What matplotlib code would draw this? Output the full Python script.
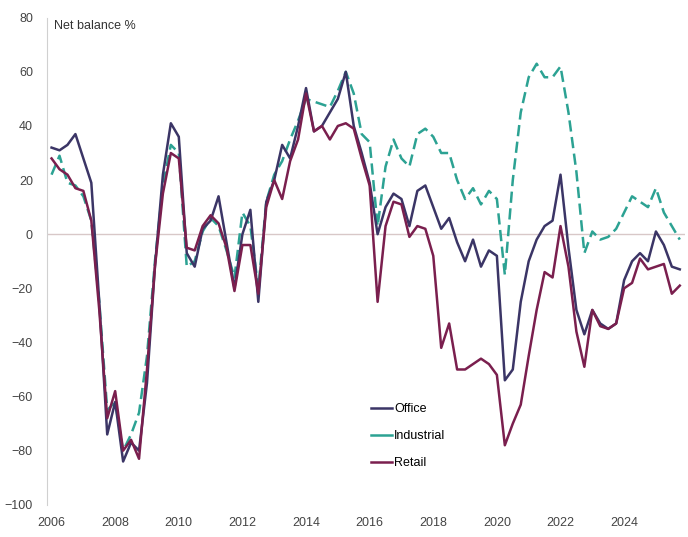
import numpy as np
import matplotlib
matplotlib.use("Agg")
from matplotlib import pyplot as plt

plt.rcParams['font.family'] = ['Liberation Sans', 'DejaVu Sans']

# kwartały od 2006 Q1 do 2025 Q4
quarters = 2006 + np.arange(80) / 4

office = [32, 31, 33, 37, 28, 19, -25, -74, -62, -84,
          -77, -80, -55, -12, 22, 41, 36, -7, -12, 2,
          5, 14, -3, -20, 0, 9, -25, 12, 20, 33,
          28, 40, 54, 38, 40, 45, 50, 60, 40, 30,
          19, 0, 10, 15, 13, 3, 16, 18, 10, 2,
          6, -3, -10, -2, -12, -6, -8, -54, -50, -25,
          -10, -2, 3, 5, 22, -5, -28, -37, -28, -33,
          -35, -33, -17, -10, -7, -10, 1, -4, -12, -13]

industrial = [22, 29, 19, 18, 14, 5, -25, -65, -62, -80,
              -74, -66, -45, -10, 18, 33, 30, -12, -10, 1,
              6, 3, -6, -16, 8, 3, -20, 12, 22, 27,
              35, 42, 50, 49, 48, 47, 53, 60, 52, 37,
              34, 3, 25, 35, 28, 25, 37, 39, 36, 30,
              30, 20, 13, 17, 11, 16, 13, -15, 20, 45,
              58, 63, 58, 58, 62, 45, 23, -7, 1, -2,
              -1, 2, 8, 14, 12, 10, 17, 8, 3, -2]

retail = [28, 24, 22, 17, 16, 5, -28, -68, -58, -80,
          -76, -83, -50, -12, 15, 30, 28, -5, -6, 3,
          7, 4, -5, -21, -4, -4, -22, 10, 20, 13,
          27, 35, 52, 38, 40, 35, 40, 41, 39, 28,
          18, -25, 3, 12, 11, -1, 3, 2, -8, -42,
          -33, -50, -50, -48, -46, -48, -52, -78, -70, -63,
          -45, -28, -14, -16, 3, -12, -36, -49, -28, -34,
          -35, -33, -20, -18, -9, -13, -12, -11, -22, -19]

year_ticks = list(range(2006, 2026, 2))
y_ticks = list(range(-100, 81, 20))

fig = plt.figure(figsize=(6.88, 5.37), dpi=100)
ax = fig.add_axes([0.068, 0.06, 0.927, 0.907])

ax.axhline(0, color='#d8c8c8', lw=1.0, zorder=1)

ax.plot(quarters, office, color='#3b3566', lw=1.8, label='Office', zorder=3)
ax.plot(quarters, industrial, color='#2ca293', lw=1.8, dashes=(4.5, 2.2),
        label='Industrial', zorder=2)
ax.plot(quarters, retail, color='#7a1f4e', lw=1.8, label='Retail', zorder=4)

ax.set_xlim(2005.85, 2025.9)
ax.set_ylim(-100, 80)
ax.set_xticks(year_ticks)
ax.set_yticks(y_ticks)

for s in ['top', 'right', 'bottom']:
    ax.spines[s].set_visible(False)
ax.spines['left'].set_color('#d0d0d0')
ax.tick_params(axis='both', length=0, labelsize=9, colors='#444444')
ax.tick_params(axis='y', pad=10)
ax.tick_params(axis='x', pad=9)

ax.text(0.012, 0.995, 'Net balance %', transform=ax.transAxes, fontsize=9,
        color='#333333', va='top', ha='left')

leg = ax.legend(loc='lower left', bbox_to_anchor=(0.49, 0.05), frameon=False,
                fontsize=9, handlelength=1.7, handletextpad=0.2, labelspacing=1.2)
leg.get_lines()[1].set_dashes([])

fig.savefig('out.png', dpi=100)
